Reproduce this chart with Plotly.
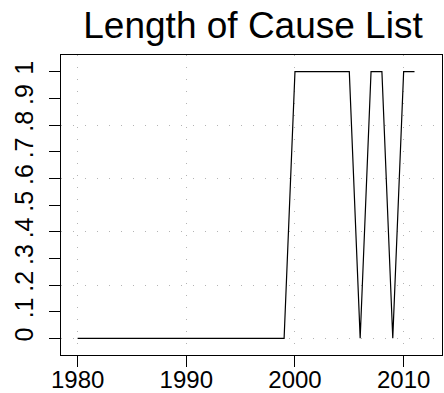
import plotly.graph_objects as go

years = list(range(1980, 2012))
values = [0]*20 + [1, 1, 1, 1, 1, 1, 0, 1, 1, 0, 1, 1]
x_ticks = [1980, 1990, 2000, 2010]
y_ticks = [0, 0.1, 0.2, 0.3, 0.4, 0.5, 0.6, 0.7, 0.8, 0.9, 1]
y_tick_labels = ["0", ".1", ".2", ".3", ".4", ".5", ".6", ".7", ".8", ".9", "1"]
y_grid = [0, 0.2, 0.4, 0.6, 0.8]

FONT = "Liberation Sans, Arial, Helvetica, sans-serif"
yr = [-0.0625, 1.0625]
GRID = "#b4b4b4"

fig = go.Figure()
fig.add_trace(go.Scatter(x=years, y=values, mode="lines",
                         line=dict(color="black", width=1.2),
                         showlegend=False, hoverinfo="skip"))
# invisible trace to activate the grid axis
fig.add_trace(go.Scatter(x=[years[0]], y=[values[0]], yaxis="y2", mode="markers",
                         marker=dict(opacity=0), showlegend=False, hoverinfo="skip"))

fig.update_layout(
    width=444, height=393,
    margin=dict(l=61, r=2, t=55, b=38, autoexpand=False),
    paper_bgcolor="white", plot_bgcolor="white",
    title=dict(text="Length of Cause List", x=253/444, xanchor="center",
               y=1 - 38/393, yanchor="bottom",
               font=dict(family=FONT, size=37, color="black")),
    font=dict(family=FONT, color="black"),
    xaxis=dict(range=[1978.47, 2013.53], tickvals=x_ticks, automargin=False,
               ticks="outside", ticklen=11, tickwidth=1, tickcolor="black",
               ticklabelstandoff=-8,
               showline=True, linecolor="black", linewidth=1, mirror=True,
               showgrid=True, gridcolor=GRID, griddash="1px,11px", gridwidth=1,
               zeroline=False, tickfont=dict(size=24, family=FONT)),
    yaxis=dict(range=yr, tickvals=y_ticks, ticktext=y_tick_labels, automargin=False,
               tickangle=-90, ticklabelstandoff=6,
               ticks="outside", ticklen=11, tickwidth=1, tickcolor="black",
               showline=True, linecolor="black", linewidth=1, mirror=True,
               showgrid=False, zeroline=False,
               tickfont=dict(size=25, family=FONT)),
    yaxis2=dict(range=yr, overlaying="y", tickvals=y_grid, showticklabels=False,
                automargin=False,
                ticks="", showgrid=True, gridcolor=GRID, griddash="1px,11px",
                gridwidth=1, zeroline=False, showline=False),
)

fig.write_html("out.html", config={"displayModeBar": False},
               post_script="document.body.style.margin='0';document.body.style.overflow='hidden';")
